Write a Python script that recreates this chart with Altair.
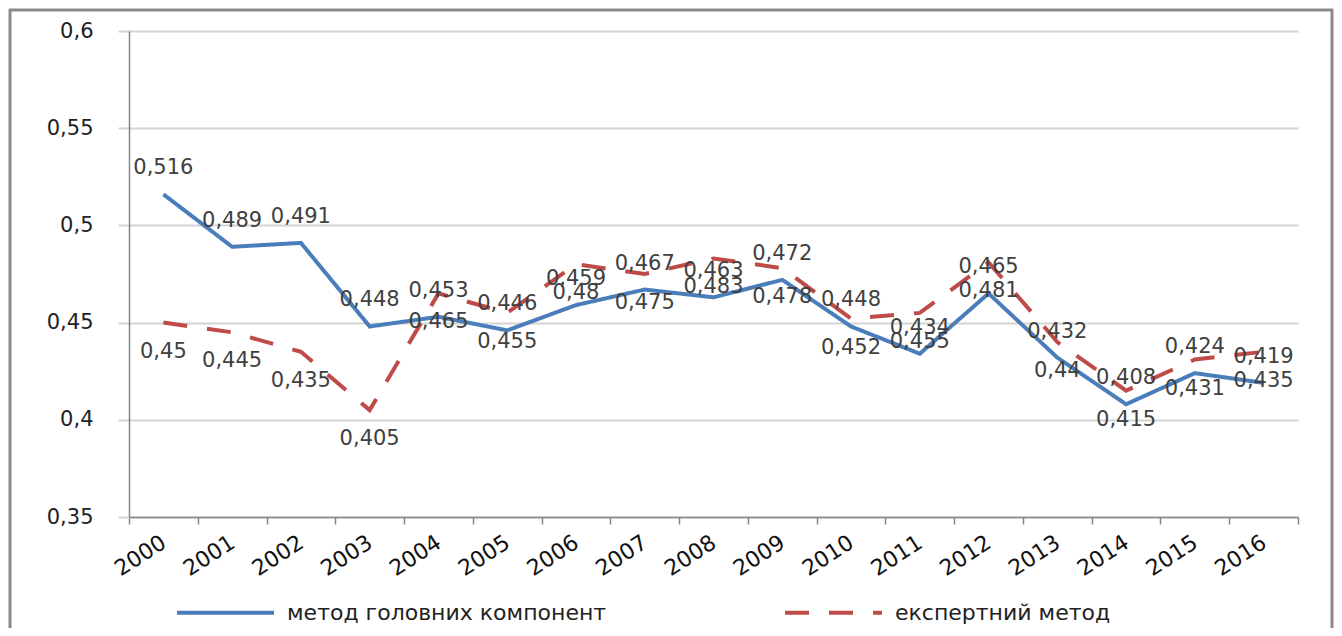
import altair as alt
import pandas as pd

# ---- data ----
years = ["2000", "2001", "2002", "2003", "2004", "2005", "2006", "2007", "2008",
         "2009", "2010", "2011", "2012", "2013", "2014", "2015", "2016"]
pca_values = [0.516, 0.489, 0.491, 0.448, 0.453, 0.446, 0.459, 0.467, 0.463,
              0.472, 0.448, 0.434, 0.465, 0.432, 0.408, 0.424, 0.419]
expert_values = [0.45, 0.445, 0.435, 0.405, 0.465, 0.455, 0.48, 0.475, 0.483,
                 0.478, 0.452, 0.455, 0.481, 0.44, 0.415, 0.431, 0.435]
series_names = ["метод головних компонент", "експертний метод"]
y_ticks = [0.35, 0.4, 0.45, 0.5, 0.55, 0.6]

rows = []
for name, vals in zip(series_names, [pca_values, expert_values]):
    for yr, v in zip(years, vals):
        rows.append({"year": yr, "series": name, "value": v})
df = pd.DataFrame(rows)

FONT = "DejaVu Sans"
BLUE = "#4A7EBB"
RED = "#BE4B48"

x_enc = alt.X(
    "year:O",
    sort=years,
    bandPosition=0.5,
    scale=alt.Scale(type="band", paddingInner=0, paddingOuter=0),
    axis=alt.Axis(
        title=None, labelAngle=-33, labelAlign="right", labelBaseline="middle",
        tickBand="extent", tickSize=7, labelPadding=16, labelFont=FONT,
        labelFontSize=22, labelColor="#111111", domainColor="#868686",
        tickColor="#868686", grid=False, domainWidth=1.5, tickWidth=1.5,
    ),
)
y_enc = alt.Y(
    "value:Q",
    scale=alt.Scale(domain=[0.35, 0.6], nice=False, zero=False),
    axis=alt.Axis(
        title=None, values=y_ticks,
        labelExpr="replace(format(datum.value, '.2~f'), '.', ',')",
        tickSize=11, tickColor="#d4d4d4", tickWidth=2, gridColor="#d4d4d4",
        gridWidth=2, domainColor="#868686", domainWidth=1.5, labelPadding=25,
        labelFont=FONT, labelFontSize=21, labelColor="#222222",
    ),
)

legend = alt.Legend(
    title=None, orient="none", legendX=46, legendY=531, direction="horizontal",
    symbolType="stroke", symbolSize=9409, symbolStrokeWidth=4,
    labelFont=FONT, labelFontSize=22, labelColor="#222222", labelOffset=11,
    labelLimit=0, columnPadding=170, padding=0,
)

lines = alt.Chart(df).mark_line(strokeWidth=4).encode(
    x=x_enc,
    y=y_enc,
    color=alt.Color("series:N", sort=series_names,
                    scale=alt.Scale(domain=series_names, range=[BLUE, RED]),
                    legend=legend),
    strokeDash=alt.StrokeDash("series:N", sort=series_names,
                              scale=alt.Scale(domain=series_names,
                                              range=[[1, 0], [24, 20]]),
                              legend=legend),
)

label_calc = "replace(toString(datum.value), '.', ',')"

pca_text = alt.Chart(df).transform_filter(
    alt.datum.series == series_names[0]
).transform_calculate(label=label_calc).mark_text(
    dy=-26, font=FONT, fontSize=21, color="#404040"
).encode(x=x_enc, y=y_enc, text="label:N")

exp_text = alt.Chart(df).transform_filter(
    alt.datum.series == series_names[1]
).transform_calculate(label=label_calc).mark_text(
    dy=29, font=FONT, fontSize=21, color="#404040"
).encode(x=x_enc, y=y_enc, text="label:N")

frame_df = pd.DataFrame({"k": [0]})
frame_color = "#8a8a8a"
left_border = alt.Chart(frame_df).mark_rule(color=frame_color, strokeWidth=3).encode(
    x=alt.value(-119), y=alt.value(-22), y2=alt.value(600))
top_border = alt.Chart(frame_df).mark_rule(color=frame_color, strokeWidth=3).encode(
    x=alt.value(-120), x2=alt.value(1204), y=alt.value(-21))
right_border = alt.Chart(frame_df).mark_rule(color=frame_color, strokeWidth=3).encode(
    x=alt.value(1203), y=alt.value(-22), y2=alt.value(600))

chart = alt.layer(lines, pca_text, exp_text, left_border, top_border, right_border).properties(
    width=1169,
    height=486,
    padding={"left": 121, "top": 23, "right": 36, "bottom": 111},
    autosize=alt.AutoSizeParams(type="none"),
    background="white",
).configure_view(stroke=None)

chart.save("out.html", embed_options={"renderer": "svg", "actions": False})
